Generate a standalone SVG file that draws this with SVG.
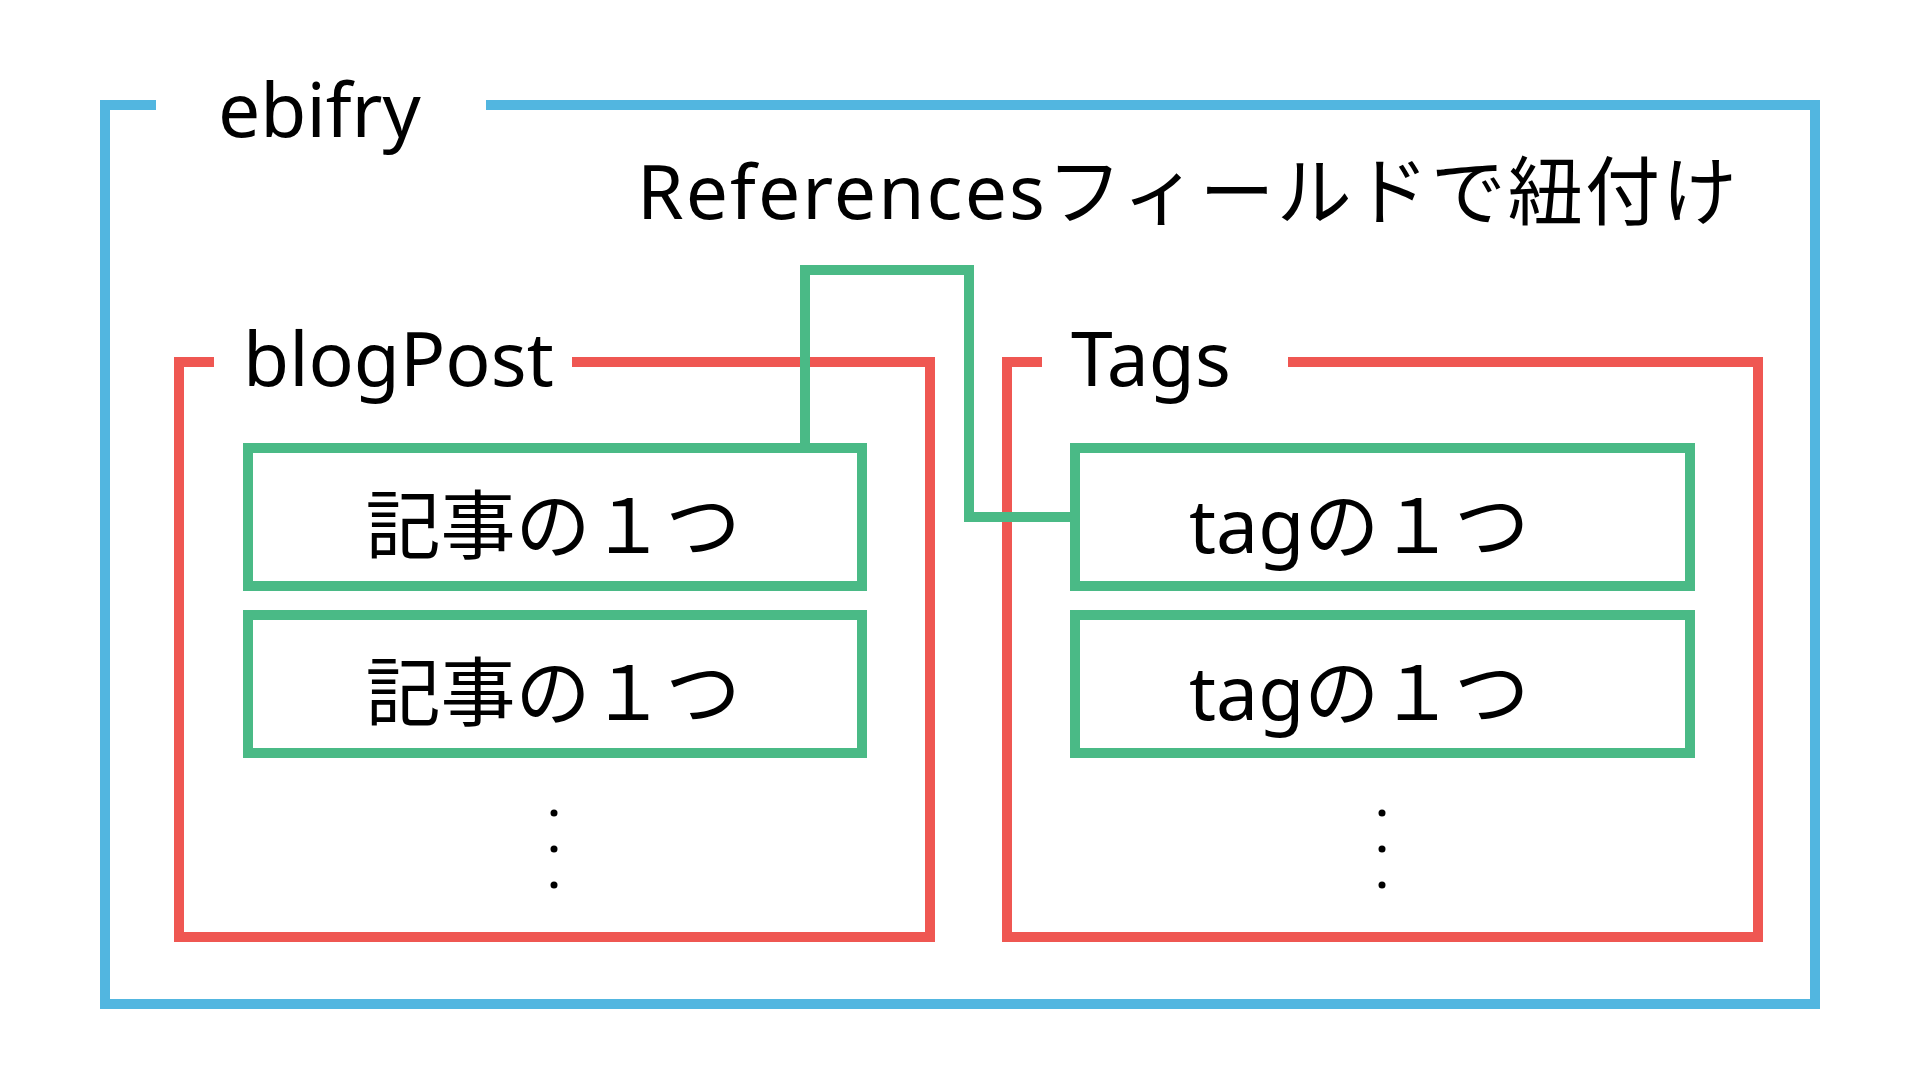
<svg xmlns="http://www.w3.org/2000/svg" width="1920" height="1080" viewBox="0 0 1920 1080">
<style>
.blue{fill:none;stroke:#52b6e0;stroke-width:10}
.red{fill:none;stroke:#ef5752;stroke-width:10}
.green{fill:none;stroke:#4aba86;stroke-width:10}
.t{font-family:"Noto Sans","Noto Sans CJK JP",sans-serif;font-size:75px;fill:#000}
.dot{fill:#000}
</style>
<rect width="1920" height="1080" fill="#fff"/>
<g id="ebifry">
<path class="blue" d="M156,105 H105 V1004 H1815 V105 H486"/>
<text class="t" x="218" y="137">ebifry</text>
</g>
<g id="blogPost">
<path class="red" d="M214,362 H179 V937 H930 V362 H572"/>
<text class="t" x="243" y="386">blogPost</text>
</g>
<g id="Tags">
<path class="red" d="M1042,362 H1007 V937 H1758 V362 H1288"/>
<text class="t" x="1071" y="386">Tags</text>
</g>
<g id="post1">
<rect class="green" x="248" y="448" width="614" height="138"/>
<text class="t" x="553" y="553" text-anchor="middle">記事の１つ</text>
</g>
<g id="post2">
<rect class="green" x="248" y="615" width="614" height="138"/>
<text class="t" x="553" y="720" text-anchor="middle">記事の１つ</text>
</g>
<g id="postMore">
<circle class="dot" cx="554" cy="813" r="3.5"/>
<circle class="dot" cx="554" cy="849" r="3.5"/>
<circle class="dot" cx="554" cy="885" r="3.5"/>
</g>
<g id="tag1">
<rect class="green" x="1075" y="448" width="615" height="138"/>
<text class="t" x="1189" y="553">tagの１つ</text>
</g>
<g id="tag2">
<rect class="green" x="1075" y="615" width="615" height="138"/>
<text class="t" x="1189" y="720">tagの１つ</text>
</g>
<g id="tagMore">
<circle class="dot" cx="1382" cy="813" r="3.5"/>
<circle class="dot" cx="1382" cy="849" r="3.5"/>
<circle class="dot" cx="1382" cy="885" r="3.5"/>
</g>
<g id="connectors">
<path class="green" d="M805,443 V270 H969 V517 H1070"/>
<text class="t" x="637" y="219" textLength="1100" lengthAdjust="spacing">Referencesフィールドで紐付け</text>
</g>
</svg>
